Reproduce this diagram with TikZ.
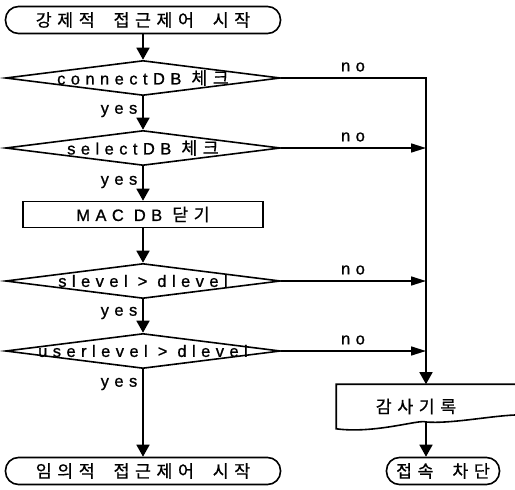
\documentclass[tikz,border=0pt]{standalone}
\usepackage{fontspec}
\setmainfont{Liberation Sans}[LetterSpace=33,FakeBold=1]
\newfontfamily\kr{Noto Sans CJK KR}[Scale=1.05,LetterSpace=32,WordSpace=2,FakeBold=0.6]
\usetikzlibrary{shapes.geometric,arrows.meta}
\tikzset{
  every node/.style={font=\fontsize{16.5pt}{18pt}\selectfont},
  term/.style={draw, rectangle, rounded corners=13pt, minimum width=275pt, minimum height=27pt, inner sep=0pt},
  dia/.style={diamond, draw, minimum width=275pt, minimum height=35pt, inner sep=0pt},
  proc/.style={draw, rectangle, minimum width=240pt, minimum height=26pt, inner sep=0pt},
  lab/.style={inner sep=0pt},
  arr/.style={-{Triangle[length=12pt,width=13pt]}},
  harr/.style={-{Triangle[length=15pt,width=9pt]}},
}
\begin{document}
\begin{tikzpicture}[x=1pt,y=-1pt,line width=1.6pt]
\useasboundingbox (0,0) rectangle (515,490);
% left column
\node[term] (start) at (143,20) {\kr 강제적 접근제어 시작};
\node[dia, label=center:{connectDB {\kr 체크}}] (d1) at (143,78) {};
\node[dia, label=center:{selectDB {\kr 체크}}] (d2) at (143,148) {};
\node[proc] (mac) at (143,214.5) {MAC DB {\kr 닫기}};
\node[dia, label=center:{slevel > dlevel}] (d3) at (143,281) {};
\node[dia, label=center:{userlevel > dlevel}] (d4) at (143,351) {};
\node[term] (dac) at (143,471) {\kr 임의적 접근제어 시작};
% right column
\coordinate (c1) at (426,78);
\coordinate (c2) at (426,148);
\coordinate (c3) at (426,281);
\coordinate (c4) at (426,351);
\node[minimum width=178pt, minimum height=43pt, inner sep=0pt,
      label={[xshift=-10pt]center:{\kr 감사기록}}] (audit) at (426,406.5) {};
\coordinate (auditout) at (426,422);
\node[draw, rectangle, rounded corners=13pt, minimum width=113pt, minimum height=27pt, inner sep=0pt] (block) at (443,471) {\kr 접속 차단};
% document shape
\draw (audit.north east) -- (audit.north west) -- (audit.south west)
  .. controls (375,434) and (420,419) .. (auditout)
  .. controls (450,424) and (490,416) .. (515,415);
% main flow
\draw[arr] (start) -- (d1);
\draw[arr] (d1) -- (d2);
\draw[arr] (d2) -- (mac);
\draw[arr] (mac) -- (d3);
\draw[arr] (d3) -- (d4);
\draw[arr] (d4) -- (dac);
\node[lab] (y1) at (119,111) {yes};
\node[lab] (y2) at (119,182) {yes};
\node[lab] (y3) at (119,313) {yes};
\node[lab] (y4) at (119,384) {yes};
% no branches
\draw[arr] (d1.east) -- (c1) -- (audit.north);
\draw[harr] (d2.east) -- (c2);
\draw[harr] (d3.east) -- (c3);
\draw[harr] (d4.east) -- (c4);
\node[lab] (n1) at (353,67) {no};
\node[lab] (n2) at (353,137) {no};
\node[lab] (n3) at (353,270) {no};
\node[lab] (n4) at (353,340) {no};
\draw[arr] (auditout) -- (block.north -| auditout);
\end{tikzpicture}
\end{document}
